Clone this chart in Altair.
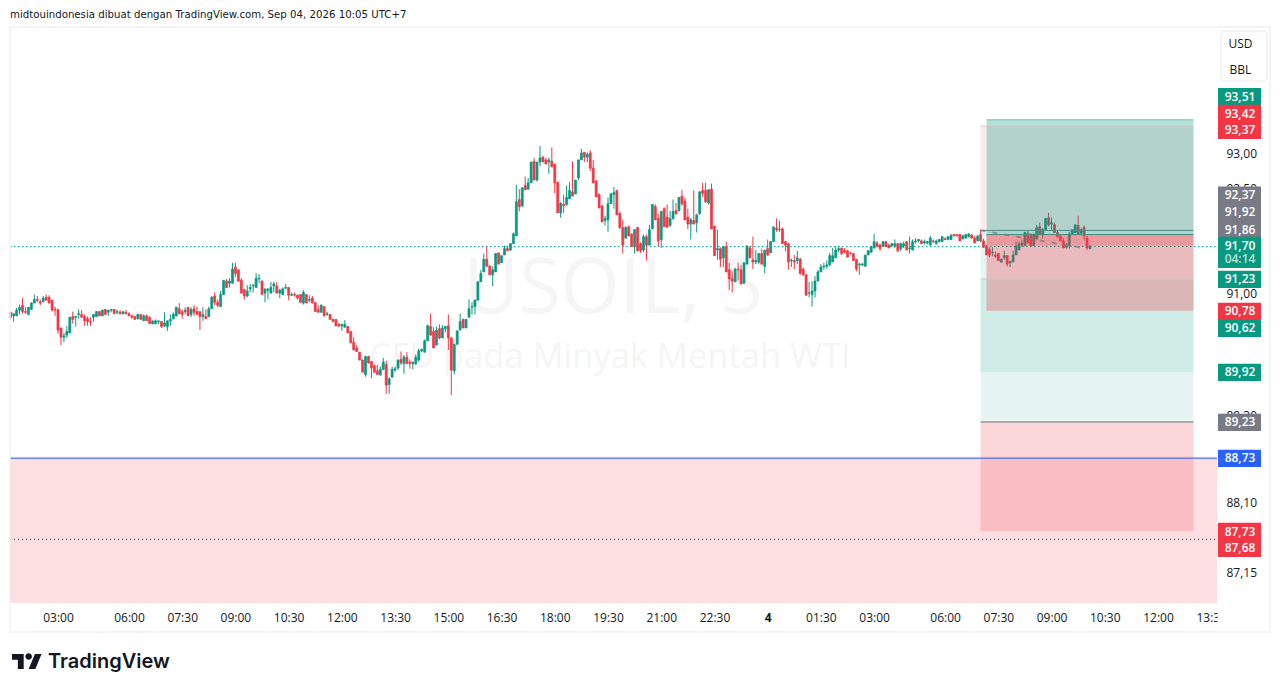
import json

import altair as alt
import pandas as pd

# 5 minute USOIL candles
opens = [
    90.76,90.71,90.71,90.79,90.86,90.77,90.73,90.80,90.89,90.94,
    90.91,90.91,90.97,90.97,90.93,90.80,90.80,90.54,90.41,90.44,
    90.47,90.70,90.69,90.73,90.73,90.70,90.67,90.63,90.69,90.70,
    90.77,
    90.71,90.80,90.76,90.79,90.80,90.76,90.76,90.74,90.76,90.74,
    90.71,90.70,90.67,90.73,90.64,90.71,90.69,90.60,90.60,90.63,
    90.63,90.57,90.56,90.64,90.67,90.71,90.81,90.77,90.77,90.83,
    90.73,90.81,90.77,90.77,90.70,90.70,90.70,90.81,90.99,90.90,
    90.84,91.01,91.20,91.17,91.17,91.40,91.36,91.21,91.08,90.99,
    91.09,91.13,91.11,91.23,91.20,91.03,91.07,91.03,91.13,91.13,
    91.03,91.01,91.10,91.11,91.00,91.01,91.00,91.01,90.89,91.01,
    90.93,90.96,90.90,90.80,90.76,90.84,90.73,90.73,
    90.66,90.66,90.59,90.57,90.55,90.56,90.49,90.34,90.26,90.20,
    90.09,89.89,90.14,90.07,90.01,89.94,89.88,89.96,90.03,89.75,
    89.85,89.95,89.98,90.10,90.04,90.13,90.06,90.04,90.04,90.09,
    90.22,90.20,90.36,90.56,90.49,90.30,90.53,90.40,90.53,90.57,
    90.40,89.94,90.31,90.51,90.66,90.54,90.69,90.83,90.84,90.93,
    91.19,91.33,91.51,91.41,91.29,91.33,91.60,91.46,91.57,91.66,
    91.64,91.73,91.84,92.36,92.27,92.56,92.51,92.60,92.91,92.64,
    92.90,92.97,92.93,92.90,92.91,92.87,92.61,92.17,92.29,92.29,
    92.37,92.47,92.44,92.67,92.93,93.04,92.97,93.03,92.81,92.63,
    92.43,92.27,92.06,92.07,92.30,92.43,92.49,92.16,91.96,91.81,
    91.97,91.87,91.69,91.96,91.73,91.64,91.83,91.71,91.94,92.26,
    92.09,
    91.79,92.23,92.11,91.99,92.09,92.20,92.20,92.41,92.34,92.11,
    92.01,92.06,92.03,92.16,92.49,92.49,92.31,92.51,91.98,91.64,
    91.66,91.53,91.69,91.36,91.24,91.19,91.37,91.36,91.17,91.44,
    91.67,91.50,91.47,91.47,91.59,91.41,91.66,91.60,91.76,91.95,
    91.94,91.94,91.76,91.73,91.49,91.49,91.49,91.51,91.37,91.29,
    91.03,91.01,91.06,91.20,91.33,91.40,91.41,91.43,91.47,91.53,
    91.64,91.67,91.63,91.63,91.60,91.59,91.51,91.43,91.43,91.41,
    91.57,91.61,91.67,91.74,91.71,91.69,91.76,91.71,91.70,91.70,
    91.73,91.66,91.70,91.76,91.66,91.64,91.76,91.77,91.77,91.74,
    91.74,91.71,91.77,91.73,91.76,91.76,91.80,91.79,91.79,91.86,
    91.86,91.86,91.80,91.81,91.83,91.85,91.81,91.77,
    91.86,91.77,91.70,91.65,91.60,91.57,91.59,91.47,91.53,91.56,
    91.46,91.47,91.57,91.64,91.71,91.70,91.88,91.85,91.70,91.80,
    91.97,91.86,91.93,92.10,92.01,92.00,91.89,91.84,91.77,91.68,
    91.70,91.87,91.89,91.99,91.88,91.96,91.81,91.66,
]
highs = [
    90.76,90.74,90.82,90.87,90.96,90.83,90.83,90.90,91.01,90.99,
    90.94,90.99,91.01,91.00,90.93,90.84,90.80,90.54,90.47,90.57,
    90.69,90.77,90.71,90.80,90.79,90.73,90.70,90.69,90.73,90.77,
    90.77,
    90.79,90.80,90.79,90.80,90.80,90.80,90.79,90.77,90.79,90.76,
    90.73,90.71,90.74,90.73,90.73,90.73,90.70,90.64,90.66,90.64,
    90.63,90.76,90.64,90.73,90.76,90.84,90.89,90.80,90.83,90.83,
    90.83,90.86,90.84,90.77,90.83,90.80,90.84,90.99,91.04,90.94,
    91.06,91.21,91.23,91.24,91.46,91.46,91.36,91.24,91.09,91.14,
    91.16,91.16,91.31,91.30,91.21,91.09,91.09,91.19,91.19,91.19,
    91.09,91.11,91.16,91.11,91.04,91.04,91.01,91.01,91.07,91.01,
    91.00,90.99,90.90,90.86,90.87,90.84,90.77,90.73,
    90.67,90.66,90.61,90.60,90.65,90.57,90.50,90.41,90.30,90.20,
    90.10,90.15,90.15,90.08,90.03,90.02,90.00,90.12,90.08,89.85,
    90.00,90.00,90.10,90.21,90.16,90.20,90.10,90.07,90.17,90.25,
    90.25,90.38,90.59,90.74,90.55,90.56,90.59,90.58,90.57,90.73,
    90.41,90.32,90.50,90.74,90.67,90.66,90.94,90.90,90.94,91.20,
    91.36,91.59,91.69,91.43,91.41,91.59,91.60,91.56,91.70,91.69,
    91.74,91.89,92.57,92.51,92.53,92.69,92.67,92.90,92.96,92.90,
    93.13,92.99,92.96,92.96,93.11,92.87,92.61,92.32,92.43,92.56,
    92.61,92.91,92.64,92.93,93.09,93.04,93.04,93.07,92.93,92.63,
    92.45,92.28,92.13,92.39,92.46,92.54,92.50,92.19,92.07,91.98,
    91.99,91.87,91.94,91.97,91.75,91.86,91.86,92.00,92.29,92.29,
    92.16,
    92.20,92.25,92.29,92.20,92.36,92.31,92.39,92.50,92.39,92.23,
    92.10,92.49,92.16,92.48,92.60,92.60,92.51,92.59,91.99,91.93,
    91.68,91.69,91.76,91.46,91.34,91.39,91.46,91.43,91.46,91.70,
    91.70,91.83,91.64,91.60,91.66,91.64,91.79,91.76,91.97,92.09,
    92.06,91.96,91.77,91.74,91.52,91.57,91.63,91.53,91.39,91.29,
    91.19,91.20,91.27,91.36,91.44,91.46,91.49,91.60,91.67,91.69,
    91.70,91.67,91.67,91.64,91.61,91.59,91.51,91.46,91.46,91.57,
    91.64,91.70,91.87,91.77,91.73,91.77,91.76,91.73,91.74,91.79,
    91.74,91.75,91.76,91.76,91.83,91.79,91.81,91.80,91.79,91.79,
    91.77,91.84,91.79,91.79,91.80,91.84,91.82,91.84,91.87,91.87,
    91.87,91.87,91.86,91.87,91.88,91.87,91.84,91.85,
    91.93,91.80,91.71,91.68,91.68,91.62,91.60,91.52,91.63,91.57,
    91.49,91.63,91.76,91.76,91.79,91.90,91.91,91.88,91.88,92.00,
    92.03,91.95,92.09,92.17,92.10,92.03,91.91,91.85,91.81,91.74,
    91.90,91.93,92.00,92.13,91.95,91.99,91.84,91.70,
]
lows = [
    90.66,90.63,90.71,90.73,90.74,90.74,90.73,90.80,90.89,90.90,
    90.86,90.90,90.93,90.89,90.77,90.71,90.46,90.30,90.34,90.40,
    90.47,90.60,90.56,90.67,90.69,90.57,90.57,90.57,90.63,90.70,
    90.71,
    90.71,90.73,90.71,90.76,90.74,90.73,90.73,90.73,90.73,90.71,
    90.67,90.66,90.66,90.66,90.64,90.64,90.60,90.59,90.59,90.59,
    90.54,90.55,90.50,90.57,90.66,90.70,90.73,90.67,90.73,90.71,
    90.69,90.71,90.73,90.51,90.64,90.67,90.70,90.81,90.86,90.83,
    90.84,91.01,91.10,91.11,91.17,91.26,91.19,91.03,90.94,90.97,
    91.04,91.04,91.11,91.17,91.01,90.90,90.94,91.03,91.04,91.03,
    90.96,91.00,91.09,90.93,90.99,90.98,90.94,90.90,90.87,90.89,
    90.90,90.89,90.77,90.76,90.76,90.70,90.71,90.66,
    90.62,90.56,90.55,90.50,90.55,90.47,90.33,90.23,90.21,90.09,
    89.92,89.86,90.04,89.84,89.92,89.89,89.88,89.95,89.62,89.62,
    89.85,89.93,89.95,90.02,89.90,90.04,89.97,89.96,90.02,90.07,
    90.20,90.20,90.36,90.43,90.26,90.30,90.38,90.40,90.48,90.23,
    89.60,89.89,90.31,90.51,90.54,90.54,90.69,90.73,90.73,90.93,
    91.19,91.33,91.41,91.29,91.13,91.33,91.44,91.46,91.57,91.63,
    91.63,91.73,91.84,92.19,92.25,92.50,92.50,92.60,92.64,92.62,
    92.84,92.90,92.87,92.73,92.83,92.45,92.17,92.10,92.17,92.27,
    92.37,92.41,92.44,92.64,92.93,92.90,92.90,92.77,92.59,92.40,
    92.24,92.04,91.99,91.90,92.30,92.23,92.14,91.94,91.59,91.80,
    91.84,91.69,91.59,91.62,91.60,91.61,91.49,91.71,91.94,92.07,
    91.69,
    91.67,91.97,91.95,91.97,92.07,92.14,92.19,92.27,92.07,91.94,
    91.79,92.01,91.89,92.14,92.40,92.31,92.29,91.94,91.56,91.50,
    91.40,91.40,91.33,91.07,91.04,91.19,91.21,91.16,91.17,91.44,
    91.53,91.37,91.44,91.44,91.44,91.31,91.56,91.60,91.76,91.90,
    91.90,91.73,91.62,91.36,91.40,91.37,91.44,91.29,91.27,91.00,
    90.97,90.84,90.97,91.20,91.33,91.36,91.37,91.41,91.47,91.53,
    91.61,91.57,91.59,91.54,91.58,91.49,91.34,91.29,91.41,91.41,
    91.57,91.60,91.66,91.69,91.63,91.69,91.69,91.67,91.68,91.67,
    91.61,91.62,91.67,91.64,91.59,91.64,91.73,91.75,91.73,91.72,
    91.72,91.71,91.74,91.72,91.75,91.76,91.78,91.78,91.78,91.84,
    91.84,91.77,91.79,91.80,91.82,91.80,91.74,91.77,
    91.75,91.67,91.57,91.54,91.55,91.53,91.49,91.46,91.50,91.41,
    91.40,91.47,91.57,91.64,91.68,91.70,91.74,91.70,91.70,91.78,
    91.86,91.80,91.93,91.98,91.93,91.89,91.82,91.77,91.67,91.66,
    91.66,91.87,91.88,91.87,91.86,91.79,91.64,91.66,
]
closes = [
    90.69,90.74,90.79,90.83,90.77,90.76,90.83,90.89,90.94,90.93,
    90.89,90.96,90.93,90.89,90.79,90.79,90.51,90.41,90.43,90.49,
    90.69,90.66,90.70,90.74,90.69,90.64,90.63,90.62,90.73,90.77,
    90.71,
    90.79,90.73,90.79,90.80,90.74,90.77,90.74,90.77,90.74,90.71,
    90.69,90.66,90.73,90.66,90.71,90.64,90.60,90.64,90.64,90.64,
    90.56,90.61,90.64,90.66,90.73,90.83,90.74,90.73,90.79,90.71,
    90.80,90.76,90.73,90.70,90.73,90.67,90.81,90.97,90.90,90.86,
    91.01,91.21,91.11,91.20,91.37,91.31,91.20,91.03,90.99,91.06,
    91.11,91.14,91.24,91.24,91.01,91.09,91.09,91.11,91.16,91.03,
    91.07,91.09,91.11,91.00,91.01,91.00,90.96,90.90,91.04,90.89,
    90.94,90.89,90.77,90.76,90.86,90.71,90.74,90.66,
    90.63,90.57,90.57,90.59,90.59,90.47,90.33,90.23,90.21,90.09,
    89.92,90.14,90.05,89.98,89.92,89.89,89.96,90.06,89.74,89.83,
    89.96,89.97,90.09,90.05,90.13,90.04,90.04,90.06,90.13,90.22,
    90.24,90.36,90.57,90.44,90.26,90.51,90.40,90.54,90.56,90.40,
    89.95,90.31,90.50,90.63,90.54,90.66,90.81,90.84,90.93,91.19,
    91.31,91.51,91.41,91.29,91.36,91.59,91.44,91.56,91.66,91.63,
    91.73,91.87,92.33,92.26,92.53,92.50,92.60,92.90,92.64,92.90,
    92.96,92.90,92.87,92.93,92.83,92.60,92.17,92.31,92.27,92.39,
    92.49,92.41,92.64,92.93,93.03,92.97,93.01,92.81,92.60,92.40,
    92.24,92.04,92.09,92.30,92.44,92.46,92.14,91.96,91.71,91.96,
    91.84,91.69,91.93,91.63,91.63,91.83,91.71,91.93,92.29,92.07,
    91.77,
    92.19,91.97,91.97,92.09,92.19,92.16,92.39,92.30,92.07,92.01,
    92.07,92.01,92.14,92.47,92.45,92.33,92.50,91.94,91.56,91.66,
    91.51,91.69,91.33,91.23,91.20,91.37,91.36,91.16,91.46,91.70,
    91.53,91.47,91.49,91.59,91.44,91.64,91.57,91.76,91.97,91.93,
    91.93,91.73,91.71,91.47,91.50,91.47,91.53,91.31,91.29,91.00,
    91.03,91.06,91.20,91.33,91.40,91.41,91.43,91.56,91.56,91.64,
    91.66,91.59,91.61,91.54,91.59,91.49,91.37,91.44,91.44,91.57,
    91.63,91.69,91.76,91.69,91.66,91.76,91.69,91.67,91.73,91.73,
    91.63,91.73,91.73,91.64,91.67,91.76,91.77,91.79,91.73,91.76,
    91.76,91.81,91.76,91.77,91.79,91.83,91.79,91.83,91.85,91.84,
    91.84,91.77,91.84,91.86,91.87,91.81,91.74,91.84,
    91.77,91.68,91.57,91.57,91.61,91.55,91.49,91.51,91.56,91.44,
    91.48,91.57,91.70,91.73,91.74,91.89,91.74,91.70,91.86,91.96,
    91.86,91.93,92.09,92.00,92.03,91.89,91.83,91.77,91.67,91.70,
    91.87,91.93,92.00,91.87,91.93,91.84,91.67,91.70,
]

# time axis, in bars
x_tick_pos = [16, 40, 58, 76, 94, 112, 130, 148, 166, 184, 202, 220, 238, 256, 274, 292, 316, 334, 352, 370, 388, 406]
x_tick_labels = ["03:00", "06:00", "07:30", "09:00", "10:30", "12:00", "13:30", "15:00", "16:30", "18:00", "19:30",
                 "21:00", "22:30", "4", "01:30", "03:00", "06:00", "07:30", "09:00", "10:30", "12:00", "13:30"]
y_ticks = [93.0, 92.5, 91.0, 89.3, 88.1, 87.15]

# price levels
last_price = 91.69
zone_top = 88.75
dotted_low = 87.62

# drawing tools: bar start, top price, bottom price, colour, opacity
tool_end = 400
tool_rects = [
    (328, 93.42, 91.92, "#f23645", 0.1),
    (328, 91.92, 89.92, "#089981", 0.1),
    (328, 91.23, 89.23, "#089981", 0.1),
    (328, 89.23, 87.73, "#f23645", 0.2),
    (330, 93.51, 91.86, "#089981", 0.3),
    (330, 91.86, 90.78, "#f23645", 0.3),
    (330, 91.86, 91.70, "#f23645", 0.25),
]
tool_lines = [
    (330, 93.51, "#6fc7b8"),
    (328, 93.42, "#d8c4c4"),
    (328, 91.92, "#4f8a80"),
    (330, 91.86, "#4f8a80"),
    (328, 91.23, "#c9c9c9"),
    (328, 89.23, "#6a6d78"),
]
path_x = [328, 364]
path_y = [91.92, 91.66]

# price tags down the right side
tag_text = ["93,51", "93,42", "93,37", "92,37", "91,92", "91,86", "91,70", "91,23", "90,78", "90,62", "89,92", "89,23", "88,73", "87,73", "87,68"]
tag_color = ["#089981", "#f23645", "#f23645", "#787b86", "#787b86", "#787b86", "#089981", "#089981", "#f23645", "#089981", "#089981", "#787b86", "#2962ff", "#f23645", "#f23645"]
tag_slot = [96.7, 113.5, 130.3, 195.2, 212.3, 229.5, 245.5, 279.4, 311.4, 328.2, 372.4, 422.4, 458.4, 531.5, 548.2]

assert len(opens) == len(highs) == len(lows) == len(closes), (len(opens), len(highs), len(lows), len(closes))
candles = pd.DataFrame({"bar": range(len(opens)), "open": opens, "high": highs, "low": lows, "close": closes})

FONT = "Open Sans"
GREEN = "#089981"
RED = "#f23645"
PX0, PY0 = 10, 28  # page position of the plot area
W, H = 1207, 575
x_domain = [-0.23, 407.95]
y_domain = [86.76, 94.85]

x_scale = alt.Scale(domain=x_domain, nice=False, zero=False, padding=0)
y_scale = alt.Scale(type="log", domain=y_domain, nice=False, padding=0)
one = alt.Data(values=[{}])

x_axis = alt.Axis(values=x_tick_pos, title=None, grid=False, domain=False, ticks=False,
                  labelFont=FONT, labelFontSize=12, labelColor="#131722", labelPadding=9,
                  labelOverlap=False, labelFlush=False, labelBound=False,
                  labelFontWeight={"expr": "datum.value == 256 ? 700 : 400"},
                  labelExpr=f"{json.dumps(x_tick_labels)}[indexof({json.dumps(x_tick_pos)}, datum.value)]")
y_axis = alt.Axis(values=y_ticks, orient="right", title=None, grid=False, domain=False, ticks=False,
                  labelFont=FONT, labelFontSize=12, labelColor="#131722", labelPadding=9, labelOffset=-1.5,
                  labelOverlap=False, labelFlush=False, labelBound=False,
                  labelExpr="replace(format(datum.value, '.2f'), '.', ',')")


def X(field):
    return alt.X(field, type="quantitative", scale=x_scale, axis=x_axis)


def Y(field):
    return alt.Y(field, type="quantitative", scale=y_scale, axis=y_axis)


def text(s, x, y, **kw):
    # page coordinates
    return alt.Chart(one).mark_text(text=s, font=kw.pop("font", FONT), **kw).encode(
        x=alt.value(x - PX0), y=alt.value(y - PY0))


def box(x0, x1, y0, y1, **kw):
    return alt.Chart(one).mark_rect(**kw).encode(
        x=alt.value(x0 - PX0), x2=alt.value(x1 - PX0), y=alt.value(y0 - PY0), y2=alt.value(y1 - PY0))


def band(x0, x1, top, bottom, color, opacity):
    d = pd.DataFrame({"x0": [x0], "x1": [x1], "top": [top], "bottom": [bottom]})
    return alt.Chart(d).mark_rect(color=color, opacity=opacity).encode(
        x=X("x0"), x2="x1", y=Y("top"), y2="bottom")


def hline(x0, x1, level, color, **kw):
    d = pd.DataFrame({"x0": [x0], "x1": [x1], "level": [level]})
    return alt.Chart(d).mark_rule(color=color, **kw).encode(
        x=X("x0"), x2="x1", y=Y("level"))


is_up = alt.condition("datum.close >= datum.open", alt.value(GREEN), alt.value(RED))

wicks = alt.Chart(candles).mark_rule(strokeWidth=1).encode(
    x=X("bar"), y=Y("low"), y2="high", color=is_up)
bodies = alt.Chart(candles).mark_bar(size=2, strokeWidth=0.7).encode(
    x=X("bar"), y=Y("open"), y2="close", color=is_up, stroke=is_up)

layers = [
    band(x_domain[0], x_domain[1], zone_top, y_domain[0], "#f23645", 0.16),
    text("USOIL, 5", 613.5, 290, fontSize=76, color="#f5f5f5", align="center", baseline="middle"),
    text("CFD pada Minyak Mentah WTI", 610, 358, fontSize=34.5, color="#f5f5f5", align="center", baseline="middle"),
    hline(x_domain[0], x_domain[1], last_price, "#00a78e", strokeDash=[1.5, 2.5], strokeWidth=1),
    hline(x_domain[0], x_domain[1], dotted_low, "#7a1f2a", strokeDash=[1, 3]),
    wicks,
    bodies,
]
for start, top, bottom, color, opacity in tool_rects:
    layers.append(band(start, tool_end, top, bottom, color, opacity))
for start, level, color in tool_lines:
    layers.append(hline(start, tool_end, level, color))
layers.append(
    alt.Chart(pd.DataFrame({"bar": path_x, "price": path_y})).mark_line(color="#787b86", strokeDash=[5, 7], opacity=0.7).encode(
        x=X("bar"), y=Y("price"))
)
layers.append(hline(x_domain[0], x_domain[1], 88.73, "#2962ff"))

# right side and bottom furniture
layers.append(box(1217.5, 1268, 604, 631, color="white"))
layers.append(box(10, 1270, 27, 632, fillOpacity=0, stroke="#f0f1f3", strokeWidth=1.5))
layers.append(box(1221, 1267, 31, 81, fillOpacity=0, stroke="#f0f1f3", strokeWidth=1.5, cornerRadius=4))
layers.append(text("USD", 1240.5, 44, fontSize=12, color="#131722", align="center", baseline="middle"))
layers.append(text("BBL", 1240.5, 70, fontSize=12, color="#131722", align="center", baseline="middle"))

for label, color, slot in zip(tag_text, tag_color, tag_slot):
    layers.append(box(1218, 1261, slot - 8.7, slot + 8.7, color=color))
# last price tag runs over two rows
layers.append(box(1218, 1261, 238, 268, color=GREEN))
for label, slot in zip(tag_text, tag_slot):
    layers.append(text(label, 1240, slot, fontSize=12, fontWeight=600, color="white", align="center", baseline="middle"))
layers.append(text("04:14", 1240, 259, fontSize=12, fontWeight=600, color="#b5e3d9", align="center", baseline="middle"))

layers.append(text("midtouindonesia dibuat dengan TradingView.com, Sep 04, 2026 10:05 UTC+7", 10, 14.5,
                   font="DejaVu Sans", fontSize=10.2, color="#131722", align="left", baseline="middle"))

logo = ("M-0.22 0.5H-0.61V-0.11H-1V-0.5H-0.22ZM0.56 0.5H0.11L0.53 -0.5H0.97Z"
        "M-0.11 -0.33A0.22 0.22 0 1 0 0.33 -0.33A0.22 0.22 0 1 0 -0.11 -0.33Z")
layers.append(alt.Chart(one).mark_point(shape=logo, size=900, filled=True, fill="#131722", opacity=1, strokeWidth=0).encode(
    x=alt.value(27 - PX0), y=alt.value(661.5 - PY0)))
layers.append(text("TradingView", 48, 662, font="Inter", fontWeight=600, fontSize=20, color="#131722", align="left", baseline="middle"))

chart = alt.layer(*layers).properties(
    width=W, height=H,
    background="white",
    padding={"left": 2, "top": 20, "right": 55, "bottom": 80},
    autosize=alt.AutoSizeParams(type="none"),
).configure_view(stroke=None)

chart.save("out.html", embed_options={"renderer": "svg", "actions": False})
